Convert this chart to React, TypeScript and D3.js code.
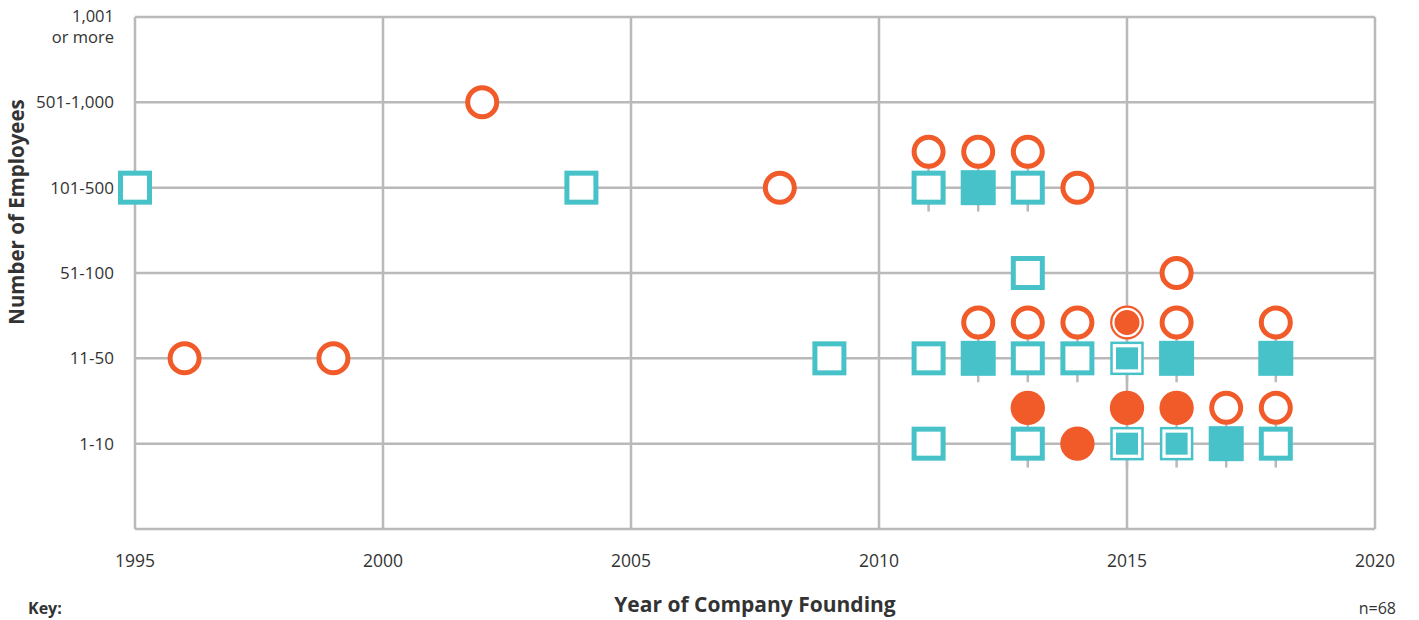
import React from "react";
import * as d3 from "d3";

const categories = ["", "1-10", "11-50", "51-100", "101-500", "501-1,000", "1,001 or more"];
const xTicks = [1995, 2000, 2005, 2010, 2015, 2020];

// year, category, stack (0 = on row, 1 = above), shape, style
const years = [2002, 1995, 2004, 2008, 2011, 2011, 2012, 2012, 2013, 2013, 2014,
  2013, 2016,
  1996, 1999, 2009, 2011, 2012, 2012, 2013, 2013, 2014, 2014, 2015, 2015, 2016, 2016, 2018, 2018,
  2011, 2013, 2013, 2014, 2015, 2015, 2016, 2016, 2017, 2017, 2018, 2018];
const cats = ["501-1,000", "101-500", "101-500", "101-500", "101-500", "101-500", "101-500", "101-500", "101-500", "101-500", "101-500",
  "51-100", "51-100",
  "11-50", "11-50", "11-50", "11-50", "11-50", "11-50", "11-50", "11-50", "11-50", "11-50", "11-50", "11-50", "11-50", "11-50", "11-50", "11-50",
  "1-10", "1-10", "1-10", "1-10", "1-10", "1-10", "1-10", "1-10", "1-10", "1-10", "1-10", "1-10"];
const stacks = [0, 0, 0, 0, 0, 1, 0, 1, 0, 1, 0,
  0, 0,
  0, 0, 0, 0, 0, 1, 0, 1, 0, 1, 0, 1, 0, 1, 0, 1,
  0, 0, 1, 0, 0, 1, 0, 1, 0, 1, 0, 1];
const shapes = ["circle", "square", "square", "circle", "square", "circle", "square", "circle", "square", "circle", "circle",
  "square", "circle",
  "circle", "circle", "square", "square", "square", "circle", "square", "circle", "square", "circle", "square", "circle", "square", "circle", "square", "circle",
  "square", "square", "circle", "circle", "square", "circle", "square", "circle", "square", "circle", "square", "circle"];
const styles = ["open", "open", "open", "open", "open", "open", "filled", "open", "open", "open", "open",
  "open", "open",
  "open", "open", "open", "open", "filled", "open", "open", "open", "open", "open", "double", "double", "filled", "open", "filled", "open",
  "open", "open", "filled", "filled", "double", "filled", "double", "filled", "filled", "open", "open", "open"];

const TEAL = "#47C2C8";
const ORANGE = "#F15A29";
const GRID = "#BAB8B8";
const TEXT = "#333333";
const FONT = "'Open Sans', sans-serif";

export default function App() {
  const W = 1419, H = 620;
  const x = d3.scaleLinear().domain([1995, 2020]).range([135, 1375]);
  const y = d3.scaleLinear().domain([0, 6]).range([529, 17]);
  const ci = (c: string) => categories.indexOf(c);
  const STACK = 0.42;

  const pts = years.map((yr, i) => ({
    year: yr, cat: ci(cats[i]), stack: stacks[i], shape: shapes[i], style: styles[i],
  }));

  const stackedCells = pts.filter((p) => p.stack === 1);

  return (
    <svg width={W} height={H} style={{ position: "absolute", left: 0, top: 0 }}>
      <rect width={W} height={H} fill="white" />
      {categories.map((c, i) => (
        <line key={"h" + i} x1={x(1995)} x2={x(2020)} y1={y(i)} y2={y(i)} stroke={GRID} strokeWidth={2.5} />
      ))}
      {xTicks.map((t) => (
        <line key={"v" + t} x1={x(t)} x2={x(t)} y1={y(0)} y2={y(6)} stroke={GRID} strokeWidth={2.5} />
      ))}
      {stackedCells.map((p, i) => (
        <line key={"s" + i} x1={x(p.year)} x2={x(p.year)} y1={y(p.cat + STACK)} y2={y(p.cat - 0.28)} stroke={GRID} strokeWidth={2.5} />
      ))}
      {pts.map((p, i) => {
        const cx = x(p.year);
        const cy = y(p.cat + p.stack * STACK);
        if (p.shape === "square") {
          if (p.style === "open")
            return <rect key={i} x={cx - 14.5} y={cy - 14.5} width={29} height={29} fill="white" stroke={TEAL} strokeWidth={5} />;
          if (p.style === "filled")
            return <rect key={i} x={cx - 17.5} y={cy - 17.5} width={35} height={35} fill={TEAL} />;
          return (
            <g key={i}>
              <rect x={cx - 15.5} y={cy - 15.5} width={31} height={31} fill="white" stroke={TEAL} strokeWidth={2.5} />
              <rect x={cx - 11} y={cy - 11} width={22} height={22} fill={TEAL} />
            </g>
          );
        }
        if (p.style === "open")
          return <circle key={i} cx={cx} cy={cy} r={14.5} fill="white" stroke={ORANGE} strokeWidth={5} />;
        if (p.style === "filled")
          return <circle key={i} cx={cx} cy={cy} r={17.2} fill={ORANGE} />;
        return (
          <g key={i}>
            <circle cx={cx} cy={cy} r={15.8} fill="white" stroke={ORANGE} strokeWidth={2.2} />
            <circle cx={cx} cy={cy} r={12.5} fill={ORANGE} />
          </g>
        );
      })}
      {categories.map((c, i) =>
        i === 0 ? null : i === 6 ? (
          <g key={"yl" + i}>
            <text x={114} y={y(i)} dy={5} textAnchor="end" fontFamily={FONT} fontSize={16.5} fill={TEXT}>
              1,001
            </text>
            <text x={114} y={y(i)} dy={26} textAnchor="end" fontFamily={FONT} fontSize={16.5} fill={TEXT}>
              or more
            </text>
          </g>
        ) : (
          <text key={"yl" + i} x={114} y={y(i)} dy={6} textAnchor="end" fontFamily={FONT} fontSize={17} fill={TEXT}>
            {c}
          </text>
        )
      )}
      {xTicks.map((t) => (
        <text key={"xl" + t} x={x(t)} y={567} textAnchor="middle" fontFamily={FONT} fontSize={17.5} fill={TEXT}>
          {t}
        </text>
      ))}
      <text x={755} y={612} textAnchor="middle" fontFamily={FONT} fontSize={21} fontWeight="bold" fill={TEXT}>
        Year of Company Founding
      </text>
      <text transform={`translate(24,${212}) rotate(-90)`} textAnchor="middle" fontFamily={FONT} fontSize={20.5} fontWeight="bold" fill={TEXT}>
        Number of Employees
      </text>
      <text x={28} y={614} fontFamily={FONT} fontSize={16} fontWeight="bold" fill={TEXT}>
        Key:
      </text>
      <text x={1396} y={614} textAnchor="end" fontFamily={FONT} fontSize={16} fill={TEXT}>
        n=68
      </text>
    </svg>
  );
}
